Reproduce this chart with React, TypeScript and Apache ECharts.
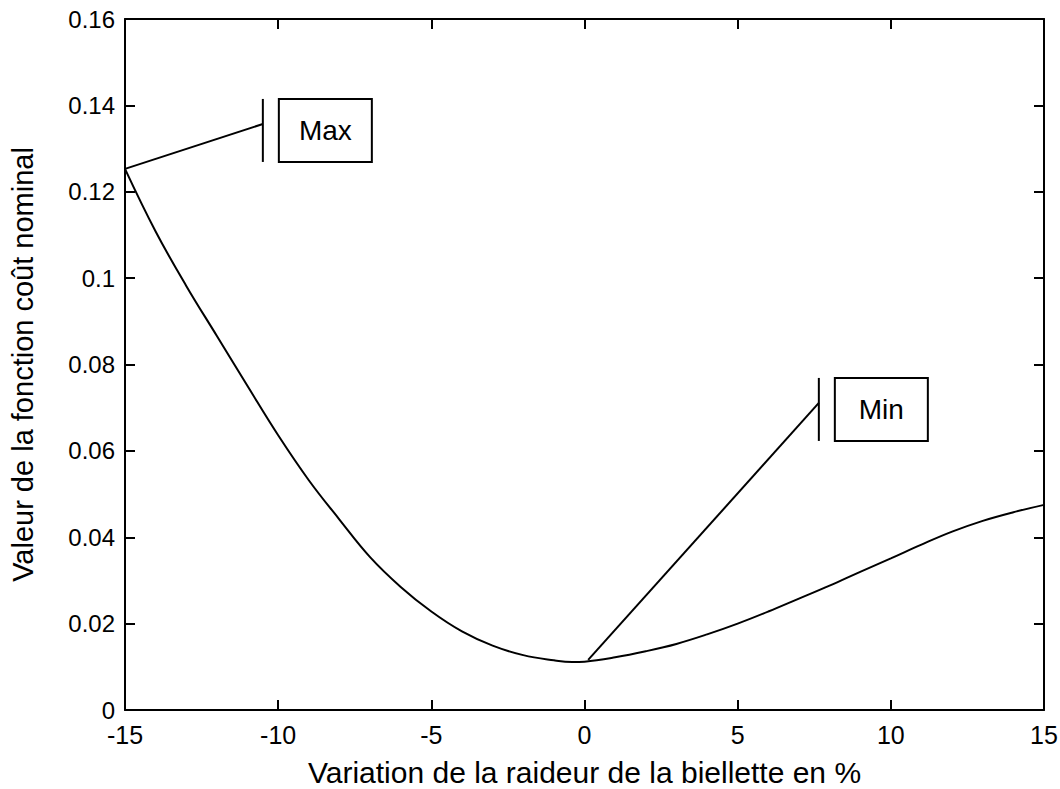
import React, { useEffect, useRef } from "react";
import * as echarts from "echarts";

const xValues = [-15, -14, -13, -12, -11, -10, -9, -8, -7, -6, -5, -4, -3, -2, -1, -0.4, 0, 1, 2, 3, 4, 5, 6, 7, 8, 9, 10, 11, 12, 13, 14, 15];
const yValues = [0.1253, 0.1108, 0.0982, 0.0866, 0.075, 0.0636, 0.0532, 0.0441, 0.0354, 0.0285, 0.0228, 0.0182, 0.0149, 0.0127, 0.0115, 0.0111, 0.0112, 0.0122, 0.0136, 0.0153, 0.0175, 0.02, 0.0228, 0.0258, 0.0288, 0.032, 0.0351, 0.0383, 0.0413, 0.0438, 0.0458, 0.0475];

const xTitle = "Variation de la raideur de la biellette en %";
const yTitle = "Valeur de la fonction coût nominal";

const annotLabels = ["Max", "Min"];
const annotAnchors = [[-15, 0.1253], [0.12, 0.0116]];
const annotEnds = [[-10.5, 0.1357], [7.65, 0.0711]];

const FONT = "Liberation Sans, Arial, sans-serif";

export default function App() {
  const ref = useRef<HTMLDivElement>(null);
  useEffect(() => {
    if (!ref.current) return;
    const chart = echarts.init(ref.current, null, { renderer: "svg" });
    const data = xValues.map((x, i) => [x, yValues[i]]);
    const axisCommon = {
      type: "value" as const,
      axisLine: { show: true, onZero: false, lineStyle: { color: "#000", width: 2 } },
      axisTick: { show: true, inside: true, length: 10, lineStyle: { color: "#000", width: 2 } },
      splitLine: { show: false },
    };
    chart.setOption({
      animation: false,
      backgroundColor: "#fff",
      grid: { left: 125, right: 16, top: 19, bottom: 79, containLabel: false, outerBoundsMode: "none" },
      xAxis: [
        {
          ...axisCommon,
          min: -15,
          max: 15,
          interval: 5,
          position: "bottom",
          axisLabel: { color: "#000", fontSize: 25, fontFamily: FONT, margin: 12 },
          name: xTitle,
          nameLocation: "middle",
          nameGap: 47,
          nameTextStyle: { color: "#000", fontSize: 30, fontFamily: FONT },
        },
        {
          ...axisCommon,
          min: -15,
          max: 15,
          interval: 5,
          position: "top",
          axisLabel: { show: false },
        },
      ],
      yAxis: [
        {
          ...axisCommon,
          min: 0,
          max: 0.16,
          interval: 0.02,
          position: "left",
          axisLabel: { color: "#000", fontSize: 24, fontFamily: FONT, margin: 10 },
          name: yTitle,
          nameLocation: "middle",
          nameGap: 88,
          nameTextStyle: { color: "#000", fontSize: 29, fontFamily: FONT },
        },
        {
          ...axisCommon,
          min: 0,
          max: 0.16,
          interval: 0.02,
          position: "right",
          axisLabel: { show: false },
        },
      ],
      series: [
        {
          type: "line",
          data,
          smooth: 0.4,
          symbol: "none",
          lineStyle: { color: "#000", width: 2 },
        },
      ],
    });

    const graphics: any[] = [];
    annotLabels.forEach((label, i) => {
      const a = chart.convertToPixel({ gridIndex: 0 }, annotAnchors[i]) as number[];
      const e = chart.convertToPixel({ gridIndex: 0 }, annotEnds[i]) as number[];
      const top = e[1] - 25;
      const h = 63;
      graphics.push(
        { type: "line", shape: { x1: a[0], y1: a[1], x2: e[0], y2: e[1] }, style: { stroke: "#000", lineWidth: 2 } },
        { type: "line", shape: { x1: e[0], y1: top, x2: e[0], y2: top + h }, style: { stroke: "#000", lineWidth: 2 } },
        { type: "rect", shape: { x: e[0] + 16, y: top, width: 93, height: h }, style: { fill: "#fff", stroke: "#000", lineWidth: 2 } },
        {
          type: "text",
          x: e[0] + 16 + 46.5,
          y: top + h / 2,
          style: { text: label, fill: "#000", font: `28px ${FONT}`, align: "center", verticalAlign: "middle" },
        }
      );
    });
    chart.setOption({ graphic: graphics });

    return () => chart.dispose();
  }, []);
  return <div ref={ref} style={{ position: "fixed", left: 0, top: 0, width: 1060, height: 789 }} />;
}
